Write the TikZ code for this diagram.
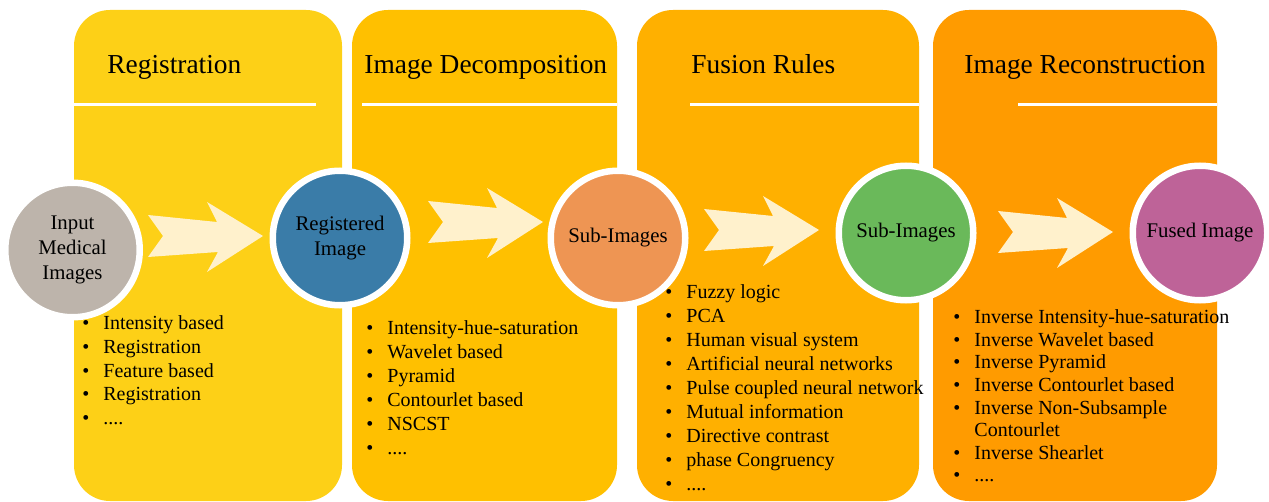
\documentclass[tikz,border=0pt]{standalone}
\usepackage{fontspec}
\setmainfont{Liberation Serif}
\usetikzlibrary{positioning}
\definecolor{regyellow}{RGB}{253,208,23}
\definecolor{decyellow}{RGB}{255,192,0}
\definecolor{fusorange}{RGB}{255,176,0}
\definecolor{recorange}{RGB}{255,155,0}
\definecolor{arrowcream}{RGB}{255,241,204}
\definecolor{greycirc}{RGB}{189,180,171}
\definecolor{bluecirc}{RGB}{58,124,168}
\definecolor{orangecirc}{RGB}{238,149,83}
\definecolor{greencirc}{RGB}{106,185,90}
\definecolor{purplecirc}{RGB}{190,99,152}
\tikzstyle{panel}=[rounded corners=18pt]
\tikzstyle{titlerule}=[draw=white,line width=1.5pt]
\tikzstyle{stage}=[circle,draw=white,line width=3.25pt,minimum size=67.25pt,inner sep=0pt,align=center,font=\fontsize{10.4}{12.5}\selectfont]
\tikzstyle{heading}=[anchor=west,inner sep=0pt,font=\fontsize{13.7}{16}\selectfont,text height=0.66em,text depth=0.1em]
\tikzstyle{listitem}=[anchor=west,inner sep=0pt,font=\fontsize{10}{12}\selectfont,text height=0.66em,text depth=0.1em]
\tikzset{blockarrow/.pic={\fill[arrowcream] (0,-21) -- (69,-14) -- (59,-34) -- (115,0) -- (59,36) -- (70,16) -- (0,21) -- (15,0) -- cycle;}}
\newcommand{\bul}{\makebox[10.5pt][l]{\textbullet}}
\newcommand{\etc}{....}

\begin{document}
\begin{tikzpicture}[x=0.5pt,y=-0.5pt]
    \useasboundingbox (0,0) rectangle (1269,502);

    % columns for the four steps
    \foreach \l/\r/\col in {74/342/regyellow, 352/617/decyellow, 637/919/fusorange, 933/1217/recorange}
        \fill[panel,\col] (\l,10) rectangle (\r,501);
    \foreach \l/\r in {74/316, 362/617, 690/919, 1018/1217}
        \draw[titlerule] (\l,105) -- (\r,105);

    \foreach \x/\name/\txt in {107/tReg/Registration, 364/tDec/Image Decomposition, 691/tFus/Fusion Rules, 964/tRec/Image Reconstruction}
        \node[heading] (\name) at (\x,67.5) {\txt};

    % block arrows
    \foreach \x/\y in {148/236, 428/222, 704/230, 998/232}
        \pic at (\x,\y) {blockarrow};

    \foreach \pos/\name/\col/\txt in {{(72.5,250)/input/greycirc/{Input\\Medical\\Images}}, {(340,238)/registered/bluecirc/{Registered\\Image}}, {(618,238)/subA/orangecirc/{Sub-Images}}, {(906,233)/subB/greencirc/{Sub-Images}}, {(1200,233)/fused/purplecirc/{Fused Image}}}
        \node[stage,fill=\col] (\name) at \pos {\txt};

    % method lists
    \foreach \txt [count=\i from 0] in {Intensity based, Registration, Feature based, Registration, \etc}
        \node[listitem] (reg\i) at (82,324+23.7*\i) {\bul\txt};
    \foreach \txt [count=\i from 0] in {Intensity-hue-saturation, Wavelet based, Pyramid, Contourlet based, NSCST, \etc}
        \node[listitem] (dec\i) at (366,329+24*\i) {\bul\txt};
    \foreach \txt [count=\i from 0] in {Fuzzy logic, PCA, Human visual system, Artificial neural networks, Pulse coupled neural network, Mutual information, Directive contrast, phase Congruency, \etc}
        \node[listitem] (fus\i) at (665,293+24*\i) {\bul\txt};
    \foreach \n/\txt in {0/Inverse Intensity-hue-saturation, 1/Inverse Wavelet based, 2/Inverse Pyramid, 3/Inverse Contourlet based, 4/Inverse Non-Subsample, 6/Inverse Shearlet, 7/\etc}
        \node[listitem] (rec\n) at (953,318+22.6*\n) {\bul\txt};
    \node[listitem] (rec5) at (953,318+22.6*5) {\hspace*{10.5pt}Contourlet};
\end{tikzpicture}
\end{document}
